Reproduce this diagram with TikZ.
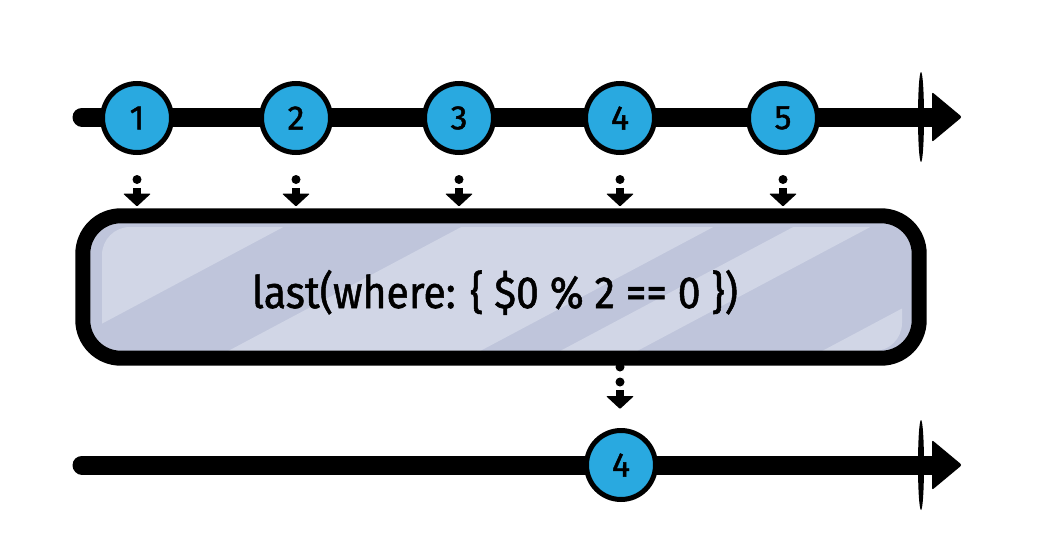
\documentclass[tikz,border=0pt]{standalone}
\usepackage{fontspec}
\setmainfont{Fira Sans}
\newfontfamily\handfont[FakeBold=1.2]{Fira Sans}
\usetikzlibrary{calc}
\definecolor{marblecol}{HTML}{29A9E0}
\definecolor{boxfill}{HTML}{BFC5DB}
\definecolor{boxlight}{HTML}{D1D6E6}
\begin{document}
\begin{tikzpicture}[x=1pt,y=-1pt,
  marble/.style={circle,draw=black,line width=5pt,fill=marblecol,minimum size=69pt,inner sep=0pt,
    font=\handfont\fontsize{34}{34}\selectfont},
  timeline/.style={line width=19pt,line cap=round},
  tickmark/.pic={\fill (0,0) ellipse (3pt and 45pt);},
  headtip/.pic={\fill[rounded corners=2pt] (-8,-25) -- (22,0) -- (-8,25) -- cycle;},
  dnarrow/.pic={\fill (0,0) circle (4.5pt);
    \fill (-4,8) rectangle (4,15);
    \fill[rounded corners=1pt] (-14,14) -- (14,14) -- (0,27) -- cycle;},
  opbox/.style={rectangle,rounded corners=38pt,fill=boxfill,minimum width=836pt,minimum height=142pt,inner sep=0pt},
  boxborder/.style={line width=15pt,rounded corners=38pt},
]
\useasboundingbox (0,0) rectangle (1037,552);

% top timeline
\coordinate (t1s) at (82,117);
\coordinate (t1e) at (940,117);
\draw[timeline] (t1s) -- (t1e);
\pic at (921,117) {tickmark};
\pic at (t1e) {headtip};

% bottom timeline
\coordinate (t2s) at (82,465);
\coordinate (t2e) at (940,465);
\draw[timeline] (t2s) -- (t2e);
\pic at (921,465) {tickmark};
\pic at (t2e) {headtip};

% marbles
\node[marble] (m1) at (137,118) {1};
\node[marble] (m2) at (296,118) {2};
\node[marble] (m3) at (459,118) {3};
\node[marble] (m4) at (620,118) {4};
\node[marble] (m5) at (783,118) {5};

% operator box
\node[opbox] (box) at (501,287) {};
\begin{scope}
  \clip[rounded corners=28pt] (102,227) rectangle (902,351);
  \fill[boxlight] (0,200) -- (334,200) -- (0,378) -- cycle;
  \fill[boxlight] (512,200) -- (764,200) -- (425.6,380) -- (173.6,380) -- cycle;
  \fill[boxlight] (844,200) -- (921,200) -- (582.6,380) -- (505.6,380) -- cycle;
  \fill[boxlight] (1106,200) -- (1200,200) -- (1200,380) -- (767.6,380) -- cycle;
\end{scope}
\draw[boxborder] (box.north west) rectangle (box.south east);
\node[anchor=base,inner sep=0pt] (label) at (495,308)
  {\resizebox{486pt}{38pt}{\handfont last(where: \{ \$0 \% 2 == 0 \})}};

% input arrows
\foreach \m in {m1,m2,m3,m4,m5}
  \pic at ($(\m.south)+(0,24.5)$) {dnarrow};

% output arrow and marble
\node[marble] (m6) at (621,465) {4};
\coordinate (oa) at (620,367);
\fill (oa) circle (4.5pt);
\pic at ($(oa)+(0,15)$) {dnarrow};
\end{tikzpicture}
\end{document}
